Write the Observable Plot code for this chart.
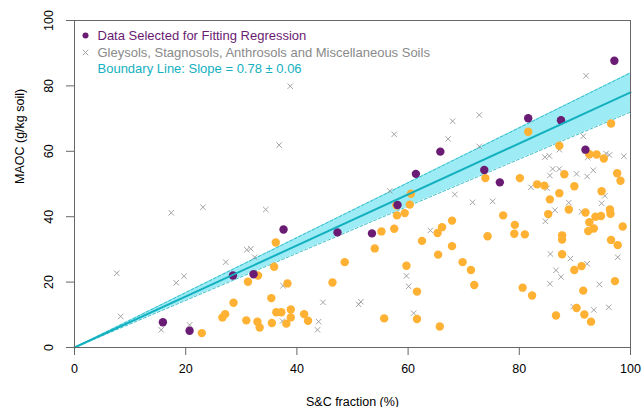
<!DOCTYPE html>
<html>
<head>
<meta charset="utf-8">
<script src="https://cdn.jsdelivr.net/npm/d3@7"></script>
<script src="https://cdn.jsdelivr.net/npm/@observablehq/plot@0.6"></script>
<style>
html,body{margin:0;padding:0;background:#fff;}
svg{font-family:"Liberation Sans",Arial,Helvetica,sans-serif;}
</style>
</head>
<body>
<div id="chart"></div>
<script>
// Data Selected for Fitting Regression [S&C %, MAOC]
const selected = [
  [15.9,7.7],[20.7,5.1],[28.5,22.0],[32.2,22.4],[37.6,36.1],[47.3,35.2],[53.5,34.9],
  [58.1,43.6],[61.4,53.1],[65.8,59.9],[73.7,54.3],[76.5,50.5],[81.6,70.1],[87.5,69.5],
  [91.9,60.5],[97.1,87.7]
];
// Gleysols, Stagnosols, Anthrosols and Miscellaneous Soils
const gleysols = [
  [7.6,22.7],[8.3,9.5],[17.4,41.2],[18.3,19.8],[19.7,21.8],[15.6,5.4],[20.7,6.9],[23.1,42.9],
  [27.2,26.1],[31.0,29.9],[31.7,30.2],[32.4,27.6],[34.4,42.2],[36.8,61.9],[38.8,79.9],
  [37.5,18.9],[37.4,8.1],[43.9,7.9],[43.7,5.4],[44.7,13.8],[51.1,13.2],[51.5,14.0],
  [56.7,47.9],[57.5,65.2],[59.7,21.9],[60.1,18.7],[61.0,10.5],[64.0,35.8],[67.2,63.8],
  [68.0,69.2],[68.4,46.8],[71.6,44.4],[72.8,71.1],[72.8,61.5],[75.2,44.7],[82.1,49.0],
  [84.6,58.2],[85.4,58.6],[85.0,48.7],[85.5,52.6],[86.0,54.6],[87.2,54.6],[86.4,42.0],
  [84.7,38.6],[85.6,28.6],[85.5,19.5],[86.6,23.6],[87.5,21.6],[87.2,60.5],[88.9,44.3],
  [89.2,27.2],[90.3,53.1],[89.7,12.5],[91.5,64.6],[92.0,83.1],[92.3,58.1],[92.2,52.3],
  [91.2,41.5],[92.2,25.6],[93.3,54.2],[93.4,11.5],[94.4,19.3],[94.8,44.1],[95.4,46.4],
  [95.6,59.3],[96.2,58.9],[96.1,12.3],[97.7,27.6],[98.8,58.5]
];
// Other soils
const others = [
  [22.9,4.4],[26.6,9.2],[27.1,10.2],[28.6,13.7],[30.9,8.3],[31.2,20.1],[33.0,22.0],[32.9,7.9],
  [33.3,6.1],[35.4,15.1],[35.5,7.5],[35.9,24.7],[36.2,32.1],[36.3,10.8],[37.2,10.8],[38.1,7.3],
  [38.3,19.6],[38.9,11.6],[38.9,9.2],[41.3,10.2],[42.0,8.2],[46.4,19.9],[48.6,26.1],[54.0,30.3],
  [55.2,35.5],[55.7,8.9],[57.5,36.3],[58.0,40.4],[57.9,43.5],[59.4,41.1],[59.7,25.0],[60.3,43.7],
  [60.5,47.0],[61.6,17.1],[61.6,8.7],[62.5,32.6],[65.3,35.0],[65.4,28.4],[65.7,6.4],[66.1,36.8],
  [67.9,38.8],[67.9,31.0],[69.8,26.1],[71.3,23.7],[71.9,19.1],[73.9,51.8],[74.3,34.0],[77.1,40.4],
  [79.2,37.5],[79.1,34.8],[80.1,51.8],[80.6,18.3],[81.0,34.6],[81.6,66.0],[82.3,15.9],[83.2,49.9],
  [84.5,49.5],[85.5,45.3],[85.2,40.8],[86.6,9.8],[87.2,47.2],[87.2,61.7],[87.7,34.3],[87.7,33.0],
  [87.7,28.5],[88.1,53.0],[88.9,42.2],[89.9,49.3],[89.9,23.7],[90.3,12.1],[91.2,24.9],[91.5,17.4],
  [91.7,10.1],[91.9,41.3],[92.6,38.3],[92.6,59.1],[92.4,35.6],[92.9,7.9],[93.4,36.4],[93.7,40.0],
  [93.9,59.0],[94.7,40.2],[94.8,47.8],[95.2,57.8],[96.3,42.2],[96.4,40.9],[96.5,32.9],[96.5,68.5],
  [97.2,20.3],[97.6,53.3],[97.7,31.3],[98.2,51.0],[98.6,37.0]
];
const slope = 0.78;
const slopeErr = 0.06;
const lineX = [0, 100];
const xTicks = [0, 20, 40, 60, 80, 100];
const yTicks = [0, 20, 40, 60, 80, 100];
const legendLabels = [
  "Data Selected for Fitting Regression",
  "Gleysols, Stagnosols, Anthrosols and Miscellaneous Soils",
  "Boundary Line: Slope = 0.78 \u00b1 0.06"
];

const PURPLE = "#6a1b73", ORANGE = "#ffb133", GREY = "#9a9a9a", CYAN = "#13b0bf", BAND = "#9debf4";

const band = lineX.map(x => ({x, lo: (slope - slopeErr) * x, hi: (slope + slopeErr) * x, mid: slope * x}));

const chart = Plot.plot({
  width: 643,
  height: 407,
  marginLeft: 74,
  marginRight: 13,
  marginTop: 20,
  marginBottom: 60,
  style: {fontFamily: '"Liberation Sans", Arial, sans-serif', fontSize: "12.5px", color: "#000"},
  x: {domain: [0, 100]},
  y: {domain: [0, 100]},
  marks: [
    Plot.areaY(band, {x: "x", y1: "lo", y2: "hi", fill: BAND}),
    Plot.line(band, {x: "x", y: "lo", stroke: CYAN, strokeWidth: 0.8, strokeDasharray: "3,2"}),
    Plot.line(band, {x: "x", y: "hi", stroke: CYAN, strokeWidth: 0.8, strokeDasharray: "3,2"}),
    Plot.dot(gleysols, {x: d => d[0], y: d => d[1], symbol: "times", r: 2.6, stroke: GREY, strokeWidth: 0.9}),
    Plot.dot(others, {x: d => d[0], y: d => d[1], r: 4.2, fill: ORANGE}),
    Plot.dot(selected, {x: d => d[0], y: d => d[1], r: 4.2, fill: PURPLE}),
    Plot.line(band, {x: "x", y: "mid", stroke: CYAN, strokeWidth: 2}),
    Plot.frame({stroke: "#666", strokeWidth: 1}),
    Plot.axisX({ticks: xTicks, tickSize: 8, tickPadding: 9, label: null, fontSize: 12.5, stroke: "#666", fill: "#000"}),
    Plot.axisY({ticks: yTicks, tickSize: 8, tickPadding: 14, label: null, tickRotate: -90, fontSize: 12.5, stroke: "#666", fill: "#000"}),
    Plot.text(["S&C fraction (%)"], {frameAnchor: "bottom", dy: 58, fontSize: 12.5, fill: "#000"}),
    Plot.text(["MAOC (g/kg soil)"], {frameAnchor: "left", dx: -55, rotate: -90, fontSize: 12.5, fill: "#000"}),
    // legend
    Plot.dot([0], {frameAnchor: "top-left", dx: 11, dy: 15, r: 3, fill: PURPLE}),
    Plot.dot([0], {frameAnchor: "top-left", dx: 11, dy: 32, r: 2.6, symbol: "times", stroke: GREY, strokeWidth: 0.9}),
    Plot.text([legendLabels[0]], {frameAnchor: "top-left", dx: 23, dy: 15, lineAnchor: "middle", textAnchor: "start", fill: PURPLE, fontSize: 13}),
    Plot.text([legendLabels[1]], {frameAnchor: "top-left", dx: 23, dy: 32, lineAnchor: "middle", textAnchor: "start", fill: "#8a8a8a", fontSize: 13}),
    Plot.text([legendLabels[2]], {frameAnchor: "top-left", dx: 23, dy: 48, lineAnchor: "middle", textAnchor: "start", fill: CYAN, fontSize: 13})
  ]
});
document.getElementById("chart").appendChild(chart);
</script>
</body>
</html>
